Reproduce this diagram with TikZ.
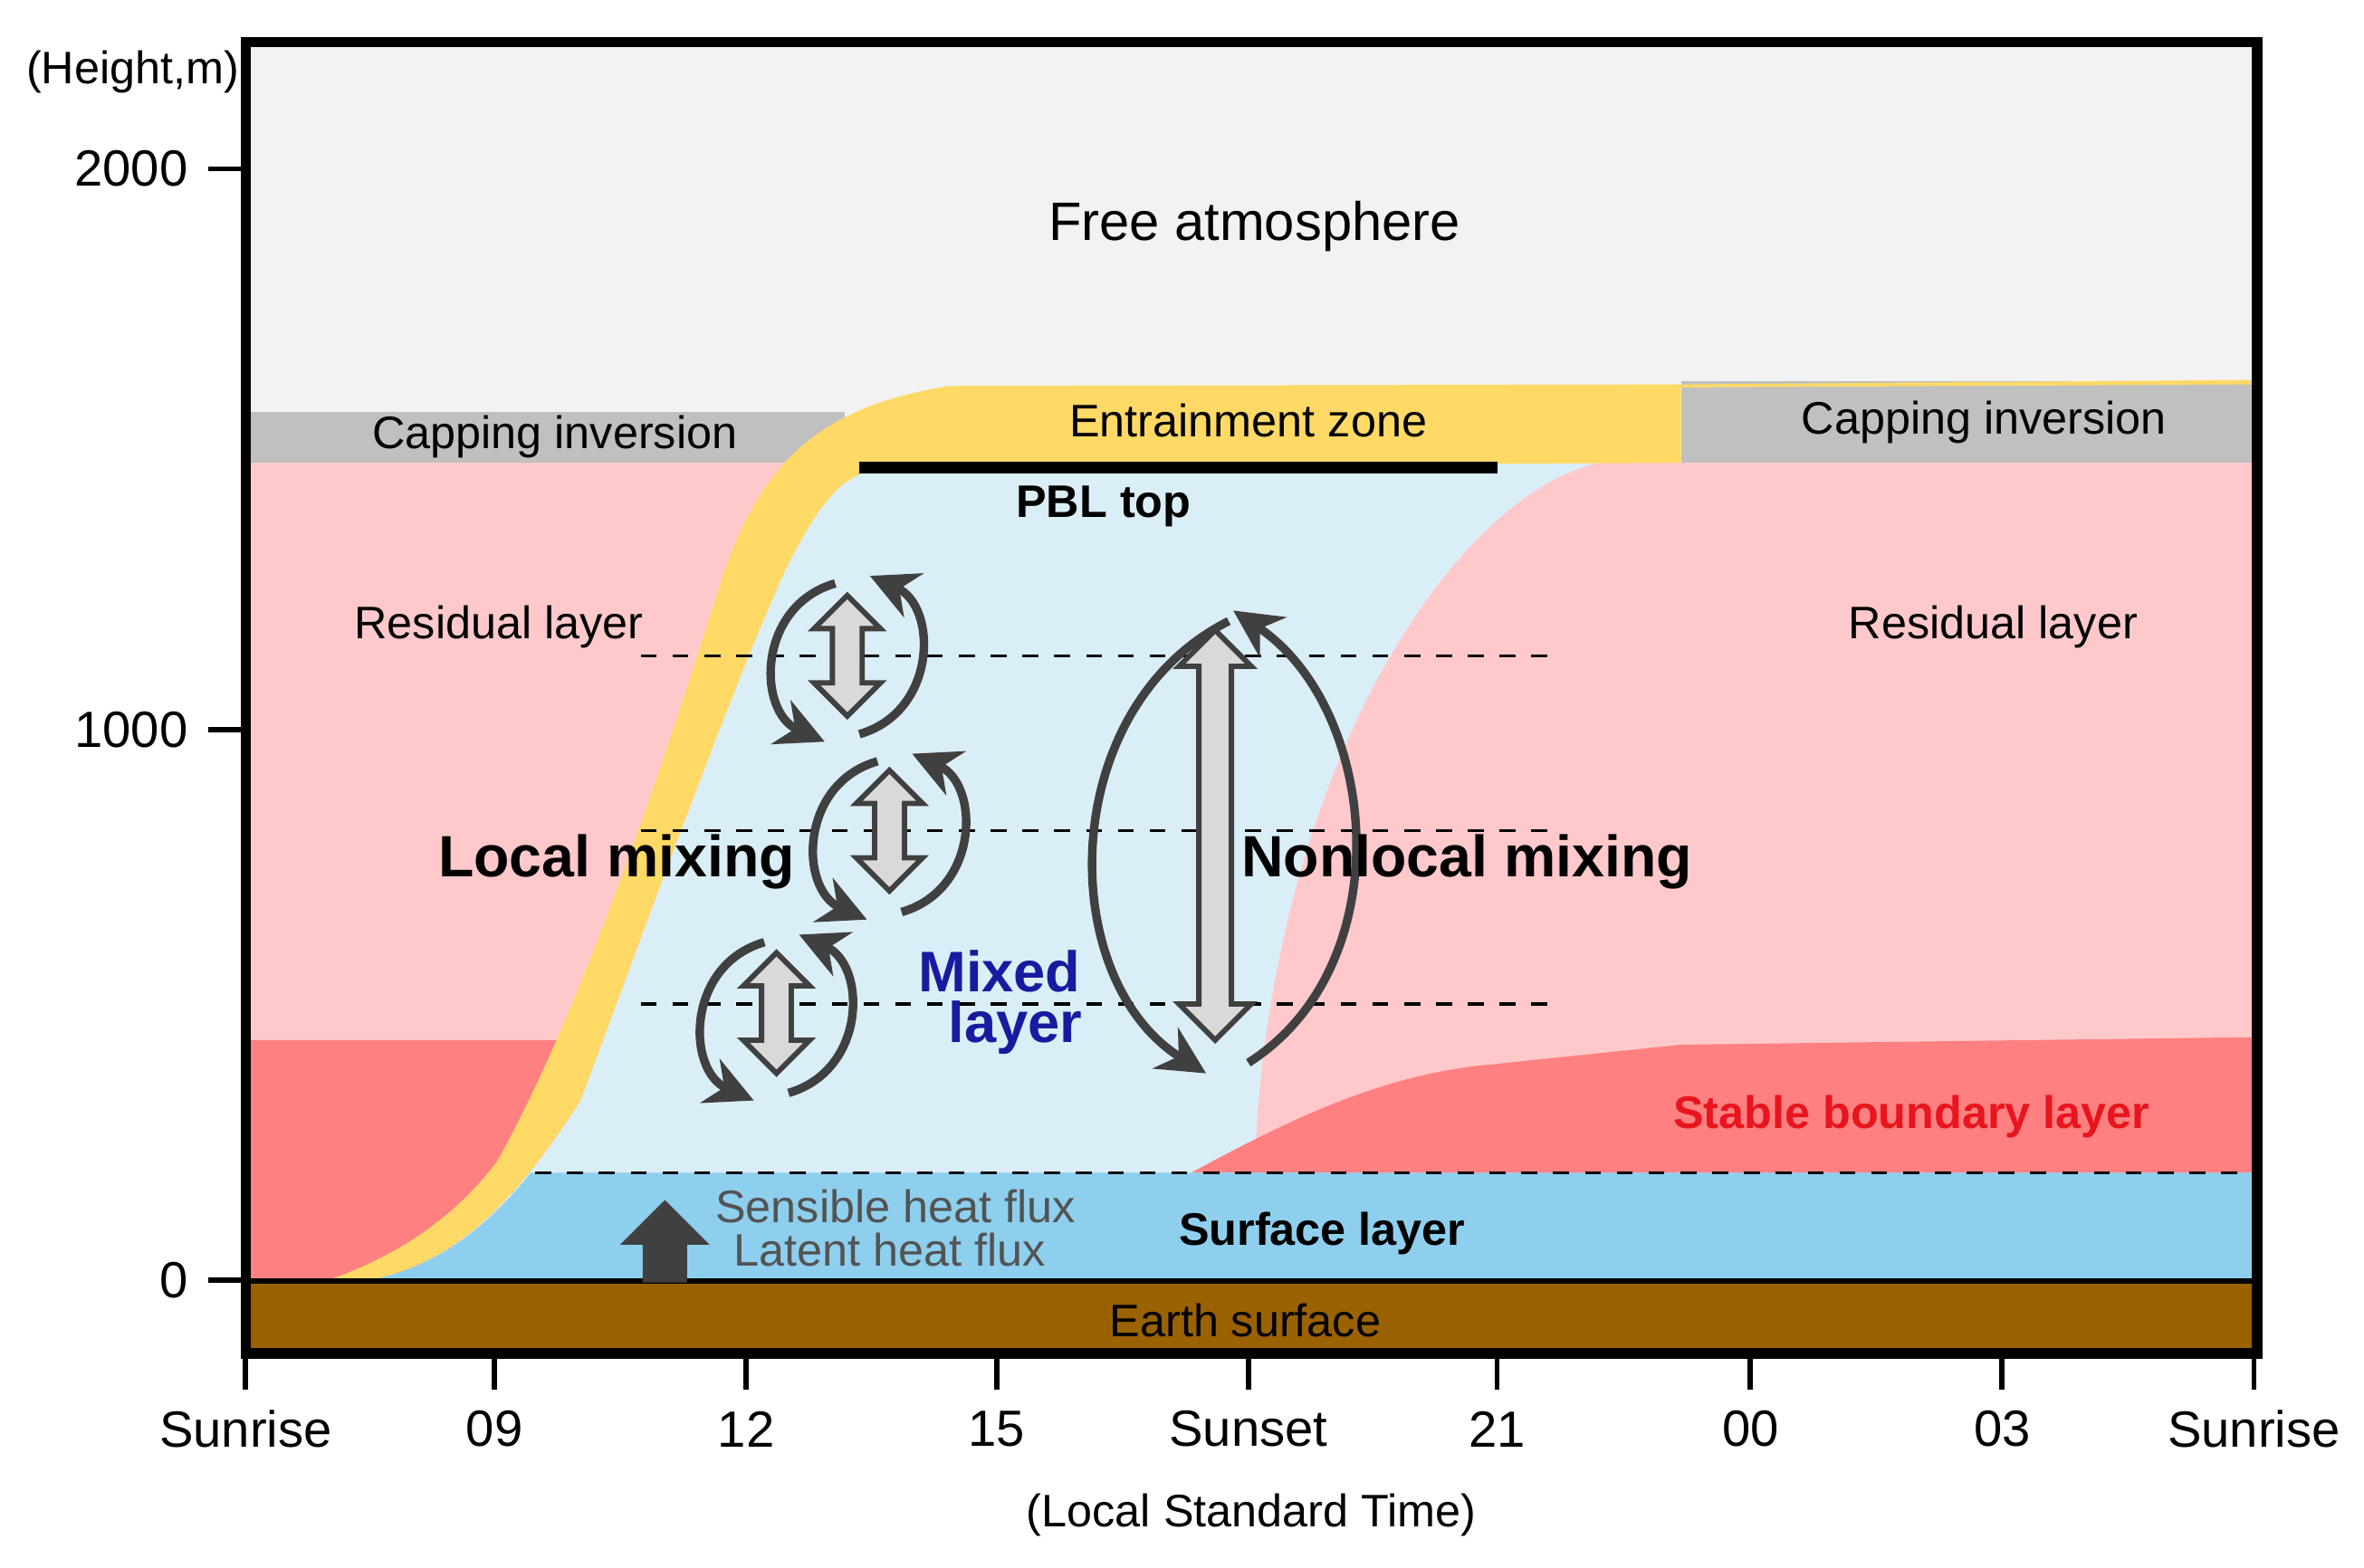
\documentclass[tikz,border=0pt]{standalone}
\usepackage{fontspec}
\setmainfont{Liberation Sans}
\usetikzlibrary{arrows.meta}
\definecolor{freeat}{HTML}{F2F2F2}
\definecolor{capg}{HTML}{C0C0C0}
\definecolor{resid}{HTML}{FFC9CB}
\definecolor{stab}{HTML}{FF8080}
\definecolor{mixc}{HTML}{DAEEF8}
\definecolor{surfc}{HTML}{8ECFEE}
\definecolor{yel}{HTML}{FFD966}
\definecolor{earth}{HTML}{9A6200}
\definecolor{darkg}{HTML}{404040}
\definecolor{mixblue}{HTML}{1A1AA0}
\definecolor{sblred}{HTML}{E8141E}
\newcommand\mydbl[4]{% cx cy L W
  \pgfmathsetmacro\hw{#4}\pgfmathsetmacro\sw{#4*0.45}\pgfmathsetmacro\hl{#4}
  \filldraw[fill=black!15,draw=darkg,line width=1pt]
  (#1,#2-#3) -- (#1+\hw,#2-#3+\hl) -- (#1+\sw,#2-#3+\hl) -- (#1+\sw,#2+#3-\hl) -- (#1+\hw,#2+#3-\hl)
  -- (#1,#2+#3) -- (#1-\hw,#2+#3-\hl) -- (#1-\sw,#2+#3-\hl) -- (#1-\sw,#2-#3+\hl) -- (#1-\hw,#2-#3+\hl) -- cycle;}
\newcommand\myswirl[2]{% cx cy
  \draw[swirl] (#1-8,#2-50) .. controls (#1-60,#2-35) and (#1-60,#2+35) .. (#1-15,#2+55);
  \draw[swirl] (#1+8,#2+50) .. controls (#1+60,#2+35) and (#1+60,#2-35) .. (#1+15,#2-55);}
\tikzset{swirl/.style={draw=darkg,line width=1.6pt,-{Stealth[length=9pt,width=9pt]}},
  lbl/.style={font=\fontsize{9.6}{11}\selectfont},
  sl/.style={font=\fontsize{8.6}{10}\selectfont},
  dashln/.style={dashed,line width=0.6pt}}
\begin{document}
\begin{tikzpicture}[x=0.01cm,y=-0.01cm]
\useasboundingbox (0,0) rectangle (1568,1040);
\fill[freeat] (163,28) rectangle (1497,898);
\fill[resid] (163,307) rectangle (1497,850);
\fill[capg] (163,273) rectangle (560,307);
\fill[capg] (1115,253) rectangle (1497,307);
\fill[stab] (163,690) rectangle (400,850);
% mixed layer
\fill[mixc] (240,850) .. controls (300,840) and (340,800) .. (385,730)
  .. controls (430,610) and (480,470) .. (520,380) .. controls (545,330) and (560,312) .. (590,310)
  -- (1060,307) .. controls (960,330) and (840,520) .. (832,778) -- (832,850) -- cycle;
% right stable
\fill[stab] (790,778) .. controls (860,740) and (920,712) .. (990,706) -- (1115,693) -- (1497,688) -- (1497,778) -- cycle;
\fill[surfc] (240,850) .. controls (290,842) and (325,812) .. (352,778) -- (1497,778) -- (1497,850) -- cycle;
% yellow band
\fill[yel] (215,850) .. controls (260,835) and (300,810) .. (330,770)
  .. controls (380,680) and (430,540) .. (480,380) .. controls (505,310) and (540,270) .. (630,256)
  -- (1115,255) -- (1497,252) -- (1497,255) -- (1115,257) -- (1115,307) -- (590,310)
  .. controls (560,312) and (545,330) .. (520,380) .. controls (480,470) and (430,610) .. (385,730)
  .. controls (340,800) and (300,840) .. (240,850) -- cycle;
\fill[earth] (163,850) rectangle (1497,898);
\draw[line width=1pt] (163,850) -- (1497,850);
\draw[dashln] (355,778) -- (1497,778);
\foreach \y in {435,551,666} \draw[dashln] (425,\y) -- (1030,\y);
\draw[line width=2.2pt] (570,310) -- (993,310);
% frame and axes
\draw[line width=2pt] (163,28) rectangle (1497,898);
\foreach \y/\t in {112/2000,484/1000,849/0} {
  \draw[line width=1pt] (138,\y) -- (163,\y);
  \node[lbl,anchor=east] at (137,\y) {\t};}
\node[sl] at (88,48) {(Height,m)};
\foreach \x/\t in {163/Sunrise,328/09,495/12,661/15,828/Sunset,993/21,1161/00,1328/03,1495/Sunrise} {
  \draw[line width=1pt] (\x,898) -- (\x,922);
  \node[lbl] at (\x,948) {\t};}
\node[sl] at (830,1005) {(Local Standard Time)};
% arrows
\filldraw[fill=darkg,draw=darkg] (441,797) -- (469,825) -- (455,825) -- (455,850) -- (427,850) -- (427,825) -- (413,825) -- cycle;
\mydbl{562}{435}{40}{22}
\mydbl{590}{551}{40}{22}
\mydbl{515}{672}{40}{22}
\myswirl{562}{437}
\myswirl{590}{555}
\myswirl{515}{675}
\mydbl{806}{554}{136}{24}
\draw[swirl] (815,412) .. controls (700,470) and (700,650) .. (800,712);
\draw[swirl] (828,705) .. controls (930,640) and (915,470) .. (818,405);
% texts
\node[font=\fontsize{10.2}{12}\selectfont] at (832,150) {Free atmosphere};
\node[sl] at (368,290) {Capping inversion};
\node[sl] at (1316,280) {Capping inversion};
\node[sl] at (828,279) {Entrainment zone};
\node[font=\fontsize{8.6}{10}\selectfont\bfseries] at (732,336) {PBL top};
\node[sl] at (331,416) {Residual layer};
\node[sl] at (1322,416) {Residual layer};
\node[font=\fontsize{11}{12}\selectfont\bfseries] at (409,572) {Local mixing};
\node[font=\fontsize{11}{12}\selectfont\bfseries] at (973,572) {Nonlocal mixing};
\node[font=\fontsize{10.8}{9.5}\selectfont\bfseries,text=mixblue,align=center] at (663,665) {Mixed\\\hspace*{6pt}layer};
\node[font=\fontsize{8.6}{10}\selectfont\bfseries,text=sblred] at (1268,741) {Stable boundary layer};
\node[sl,text=darkg!90] at (594,800) {Sensible heat flux};
\node[sl,text=darkg!90] at (590,829) {Latent heat flux};
\node[font=\fontsize{8.6}{10}\selectfont\bfseries] at (877,818) {Surface layer};
\node[sl] at (826,876) {Earth surface};
\end{tikzpicture}
\end{document}
